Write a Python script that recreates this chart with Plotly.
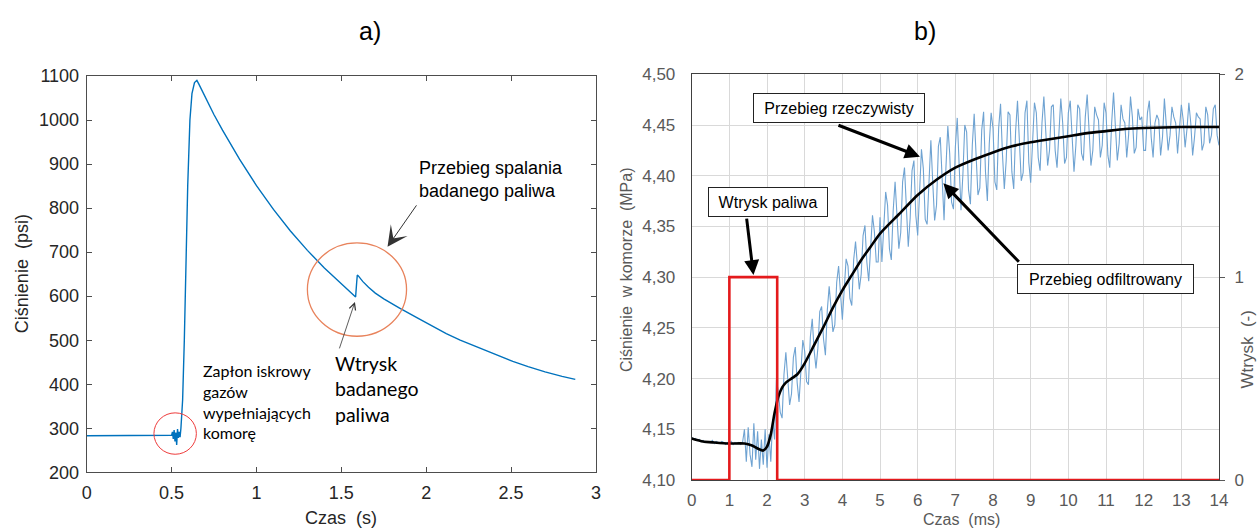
import plotly.graph_objects as go

# ---------------- a) chamber pressure, whole cycle ----------------
czas_s = [0.0, 0.49, 0.50, 0.505, 0.51, 0.515, 0.52, 0.525, 0.53, 0.535, 0.54, 0.545,
          0.55, 0.555, 0.56, 0.565, 0.575, 0.584, 0.595, 0.608, 0.62, 0.635, 0.649, 0.66,
          0.70, 0.75, 0.80, 0.90, 1.00, 1.10, 1.20, 1.30, 1.40, 1.50, 1.584, 1.59, 1.594,
          1.60, 1.627, 1.66, 1.70, 1.75, 1.80, 1.843, 1.95, 2.05, 2.118, 2.20, 2.30, 2.40,
          2.51, 2.60, 2.70, 2.80, 2.878]
cisnienie_psi = [283, 283, 284, 292, 276, 296, 270, 290, 262, 298, 278, 292,
                 280, 300, 330, 364, 500, 659, 850, 1000, 1060, 1085, 1090, 1082,
                 1050, 1012, 977, 911, 851, 797, 748, 704, 664, 627, 598, 630, 648,
                 646, 633, 620, 607, 594, 582, 573, 550, 529, 515, 500, 484, 468,
                 452, 440, 428, 418, 411]

a_xticks = [0, 0.5, 1, 1.5, 2, 2.5, 3]
a_yticks = [200, 300, 400, 500, 600, 700, 800, 900, 1000, 1100]

# ---------------- b) chamber pressure around injection ----------------
# raw signal sampled every 0.05 ms, 0 ... 14 ms
czas_ms = [round(i * 0.05, 2) for i in range(281)]
p_rzeczywisty = [
    # 0.00 - 1.35
    4.142, 4.140, 4.141, 4.139, 4.140, 4.138, 4.139, 4.137, 4.138, 4.138,
    4.137, 4.139, 4.136, 4.138, 4.137, 4.136, 4.138, 4.137, 4.135, 4.137,
    4.136, 4.138, 4.135, 4.137, 4.136, 4.137, 4.135, 4.137,
    # 1.40 - 2.20
    4.150, 4.118, 4.152, 4.125, 4.113, 4.156, 4.120, 4.148, 4.111, 4.140,
    4.115, 4.150, 4.112, 4.145, 4.118, 4.160, 4.140,
    # 2.25 - 5.00
    4.199, 4.187, 4.167, 4.161, 4.204, 4.226, 4.197, 4.174, 4.185, 4.221,
    4.231, 4.196, 4.177, 4.214, 4.238, 4.227, 4.197, 4.194, 4.241, 4.259,
    4.228, 4.210, 4.230, 4.266, 4.271, 4.239, 4.223, 4.267, 4.291, 4.269,
    4.246, 4.253, 4.295, 4.311, 4.278, 4.258, 4.288, 4.318, 4.311, 4.279,
    4.272, 4.317, 4.335, 4.308, 4.288, 4.303, 4.341, 4.351, 4.315, 4.296,
    4.336, 4.361, 4.345, 4.315, 4.315, 4.359,
    # 5.05 - 9.00
    4.315, 4.352, 4.384, 4.371, 4.328, 4.317, 4.366, 4.394, 4.358, 4.328,
    4.344, 4.394, 4.408, 4.362, 4.330, 4.358, 4.405, 4.415, 4.361, 4.341,
    4.386, 4.426, 4.407, 4.357, 4.352, 4.402, 4.435, 4.393, 4.356, 4.371,
    4.429, 4.438, 4.388, 4.356, 4.408, 4.449, 4.422, 4.374, 4.367, 4.428,
    4.457, 4.405, 4.366, 4.401, 4.450, 4.443, 4.386, 4.372, 4.430, 4.461,
    4.425, 4.381, 4.388, 4.445, 4.463, 4.404, 4.375, 4.431, 4.462, 4.447,
    4.394, 4.386, 4.447, 4.471, 4.422, 4.387, 4.415, 4.463, 4.460, 4.404,
    4.387, 4.444, 4.474, 4.437, 4.395, 4.403, 4.462, 4.474, 4.413, 4.393,
    # 9.05 - 14.00
    4.440, 4.472, 4.462, 4.418, 4.405, 4.452, 4.478, 4.440, 4.410, 4.425,
    4.468, 4.470, 4.425, 4.408, 4.446, 4.476, 4.452, 4.412, 4.418, 4.462,
    4.474, 4.436, 4.404, 4.430, 4.470, 4.466, 4.422, 4.415, 4.458, 4.480,
    4.445, 4.410, 4.425, 4.468, 4.460, 4.455, 4.418, 4.430, 4.472, 4.462,
    4.420, 4.408, 4.452, 4.482, 4.448, 4.415, 4.432, 4.470, 4.456, 4.452,
    4.418, 4.440, 4.478, 4.458, 4.422, 4.428, 4.466, 4.455, 4.458, 4.425,
    4.425, 4.462, 4.474, 4.438, 4.418, 4.452, 4.460, 4.455, 4.420, 4.438,
    4.476, 4.450, 4.425, 4.440, 4.468, 4.458, 4.452, 4.422, 4.442, 4.470,
    4.455, 4.428, 4.446, 4.472, 4.452, 4.420, 4.438, 4.462, 4.458, 4.456,
    4.425, 4.432, 4.468, 4.460, 4.432, 4.440, 4.466, 4.470, 4.440, 4.430,
]

czas_filtr = [0.0, 0.3, 0.6, 1.0, 1.4, 1.6, 1.75, 1.9, 2.0, 2.1, 2.2, 2.3, 2.4, 2.5,
              2.65, 2.8, 3.0, 3.25, 3.5, 3.75, 4.0, 4.25, 4.5, 4.75, 5.0, 5.5, 6.0,
              6.5, 7.0, 7.5, 8.0, 8.5, 9.0, 9.5, 10.0, 10.5, 11.0, 11.5, 12.0, 13.0, 14.0]
p_odfiltrowany = [4.141, 4.138, 4.137, 4.136, 4.136, 4.134, 4.131, 4.129, 4.133, 4.145,
                  4.166, 4.182, 4.191, 4.196, 4.200, 4.204, 4.215, 4.233, 4.251, 4.270,
                  4.287, 4.302, 4.317, 4.330, 4.343, 4.362, 4.381, 4.396, 4.408, 4.416,
                  4.423, 4.429, 4.433, 4.436, 4.439, 4.442, 4.444, 4.446, 4.447, 4.448,
                  4.448]

czas_wtrysk = [0, 1.0, 1.0, 2.27, 2.27, 14]
wtrysk = [0, 0, 1, 1, 0, 0]

b_xticks = list(range(0, 15))
b_yticks = [4.10, 4.15, 4.20, 4.25, 4.30, 4.35, 4.40, 4.45, 4.50]
b_yticktext = ["4,10", "4,15", "4,20", "4,25", "4,30", "4,35", "4,40", "4,45", "4,50"]
b_y2ticks = [0, 1, 2]

SANS = "Liberation Sans, Arial, sans-serif"
CAL = "Lato, Carlito, sans-serif"
DARK = "#262626"
GREY = "#595959"

fig = go.Figure()

fig.add_trace(go.Scatter(x=czas_s, y=cisnienie_psi, mode="lines",
                         line=dict(color="#0072BD", width=1.4),
                         xaxis="x", yaxis="y", showlegend=False))

fig.add_trace(go.Scatter(x=czas_ms, y=p_rzeczywisty, mode="lines",
                         line=dict(color="#6fa3d2", width=1.1),
                         xaxis="x2", yaxis="y2", showlegend=False))
fig.add_trace(go.Scatter(x=czas_filtr, y=p_odfiltrowany, mode="lines",
                         line=dict(color="#000000", width=2.6, shape="spline", smoothing=0.6),
                         xaxis="x2", yaxis="y2", showlegend=False))
fig.add_trace(go.Scatter(x=czas_wtrysk, y=wtrysk, mode="lines",
                         line=dict(color="#e41a1c", width=2.6),
                         xaxis="x2", yaxis="y3", showlegend=False, cliponaxis=False))

W, H = 1257, 529

fig.update_layout(
    width=W, height=H,
    margin=dict(l=0, r=0, t=0, b=0, autoexpand=False),
    paper_bgcolor="white", plot_bgcolor="white",
    font=dict(family=SANS, color=DARK),
    xaxis=dict(domain=[86.7 / W, 596 / W], range=[0, 3], tickvals=a_xticks,
               ticks="inside", ticklen=5, tickcolor="#4d4d4d", automargin=False,
               showline=True, linecolor="#4d4d4d", linewidth=1, mirror="allticks",
               showgrid=False, zeroline=False, anchor="y",
               tickfont=dict(size=18, color=DARK), ticklabelstandoff=4),
    yaxis=dict(domain=[1 - 472.3 / H, 1 - 76 / H], range=[200, 1100], tickvals=a_yticks,
               ticks="inside", ticklen=5, tickcolor="#4d4d4d", automargin=False,
               showline=True, linecolor="#4d4d4d", linewidth=1, mirror="allticks",
               showgrid=False, zeroline=False, anchor="x",
               tickfont=dict(size=18, color=DARK), ticklabelstandoff=3),
    xaxis2=dict(domain=[691.7 / W, 1219 / W], range=[0, 14], tickvals=b_xticks,
                ticks="", showline=True, linecolor="#404040", linewidth=1, mirror=True,
                showgrid=True, gridcolor="#d9d9d9", gridwidth=1, zeroline=False,
                anchor="y2", automargin=False,
                tickfont=dict(size=17, color=GREY), ticklabelstandoff=5),
    yaxis2=dict(domain=[1 - 480 / H, 1 - 74.3 / H], range=[4.10, 4.50],
                tickvals=b_yticks, ticktext=b_yticktext,
                ticks="", showline=True, linecolor="#404040", linewidth=1, mirror=True,
                showgrid=True, gridcolor="#d9d9d9", gridwidth=1, zeroline=False,
                anchor="x2", automargin=False,
                tickfont=dict(size=17, color=GREY), ticklabelstandoff=12),
    yaxis3=dict(overlaying="y2", side="right", anchor="x2", range=[0, 2],
                tickvals=b_y2ticks, ticks="outside", ticklen=5, tickcolor=GREY,
                showline=True, linecolor="#404040", linewidth=1, automargin=False,
                showgrid=False, zeroline=False,
                tickfont=dict(size=17, color=GREY), ticklabelstandoff=6),
)

# marked regions on the a) curve
fig.add_shape(type="circle", xref="x", yref="y",
              x0=0.521 - 0.125, x1=0.521 + 0.125, y0=288 - 47, y1=288 + 47,
              line=dict(color="#ee3b3b", width=1))
fig.add_shape(type="circle", xref="x", yref="y",
              x0=1.300, x1=1.884, y0=509, y1=721,
              line=dict(color="#e8835c", width=1.3))

ann = []
centred = dict(xanchor="center", yanchor="middle", showarrow=False)
# panel titles
ann.append(dict(text="a)", xref="paper", yref="paper", x=370 / W, y=1 - 31 / H,
                font=dict(size=25, color="black", family=SANS), **centred))
ann.append(dict(text="b)", xref="paper", yref="paper", x=925 / W, y=1 - 31 / H,
                font=dict(size=25, color="black", family=SANS), **centred))

# axis titles
ann.append(dict(text="Ciśnienie  (psi)", xref="paper", yref="y domain", x=22 / W, y=0.5,
                textangle=-90, font=dict(size=18, color=DARK), **centred))
ann.append(dict(text="Czas  (s)", xref="x domain", yref="paper", x=0.5, y=1 - 518 / H,
                font=dict(size=18, color=DARK), **centred))
ann.append(dict(text="Ciśnienie  w komorze  (MPa)", xref="paper", yref="paper",
                x=626 / W, y=1 - 270 / H, textangle=-90,
                font=dict(size=16, color=GREY), **centred))
ann.append(dict(text="Czas  (ms)", xref="paper", yref="paper", x=961 / W, y=1 - 519.5 / H,
                font=dict(size=16, color=GREY), **centred))
ann.append(dict(text="Wtrysk  (-)", xref="paper", yref="paper", x=1246.5 / W, y=1 - 350 / H,
                textangle=-90, font=dict(size=17, color=GREY), **centred))

# a) descriptions
ann.append(dict(text="Zapłon iskrowy<br>gazów<br>wypełniających<br>komorę",
                xref="x", yref="y", x=0.674, y=361, xanchor="left", yanchor="middle",
                align="left", showarrow=False, font=dict(size=16, color="black", family=CAL)))
ann.append(dict(text="Wtrysk<br>badanego<br>paliwa",
                xref="x", yref="y", x=1.452, y=390, xanchor="left", yanchor="middle",
                align="left", showarrow=False, font=dict(size=19.5, color="black", family=CAL)))
ann.append(dict(text="Przebieg spalania<br>badanego paliwa",
                xref="x", yref="y", x=1.945, y=866, xanchor="left", yanchor="middle",
                align="left", showarrow=False, font=dict(size=18, color="black", family=SANS)))
ann.append(dict(text="", xref="x", yref="y", x=1.772, y=712, ax=30, ay=-43,
                showarrow=True, arrowhead=3, arrowsize=3.4, arrowwidth=1,
                arrowcolor="#333333", standoff=0))
ann.append(dict(text="", xref="x", yref="y", x=1.58, y=587, ax=-16, ay=48,
                showarrow=True, arrowhead=5, arrowsize=1.6, arrowwidth=0.8,
                arrowcolor="#333333", standoff=0))

# b) labelled boxes
box = dict(showarrow=False, bgcolor="white", bordercolor="#222222", borderwidth=1,
           borderpad=3, font=dict(size=16, color="black", family=SANS), height=22)
ann.append(dict(text="Przebieg rzeczywisty", xref="x2", yref="y2", x=3.906, y=4.4663,
                width=164, **box))
ann.append(dict(text="Wtrysk paliwa", xref="x2", yref="y2", x=2.013, y=4.3739,
                width=112, **box))
ann.append(dict(text="Przebieg odfiltrowany", xref="x2", yref="y2", x=10.975, y=4.298,
                width=169, **box))
# b) arrows
ann.append(dict(text="", xref="x2", yref="y2", x=6.06, y=4.4188, ax=-83, ay=-32,
                showarrow=True, arrowhead=2, arrowsize=1, arrowwidth=3,
                arrowcolor="black", standoff=0))
ann.append(dict(text="", xref="x2", yref="y3", x=1.64, y=1.01, ax=-7, ay=-58,
                showarrow=True, arrowhead=2, arrowsize=1, arrowwidth=3,
                arrowcolor="black", standoff=0))
ann.append(dict(text="", xref="x2", yref="y2", x=6.68, y=4.3925, ax=77, ay=80,
                showarrow=True, arrowhead=2, arrowsize=1, arrowwidth=3,
                arrowcolor="black", standoff=0))

fig.update_layout(annotations=ann)

fig.write_html("out.html")
